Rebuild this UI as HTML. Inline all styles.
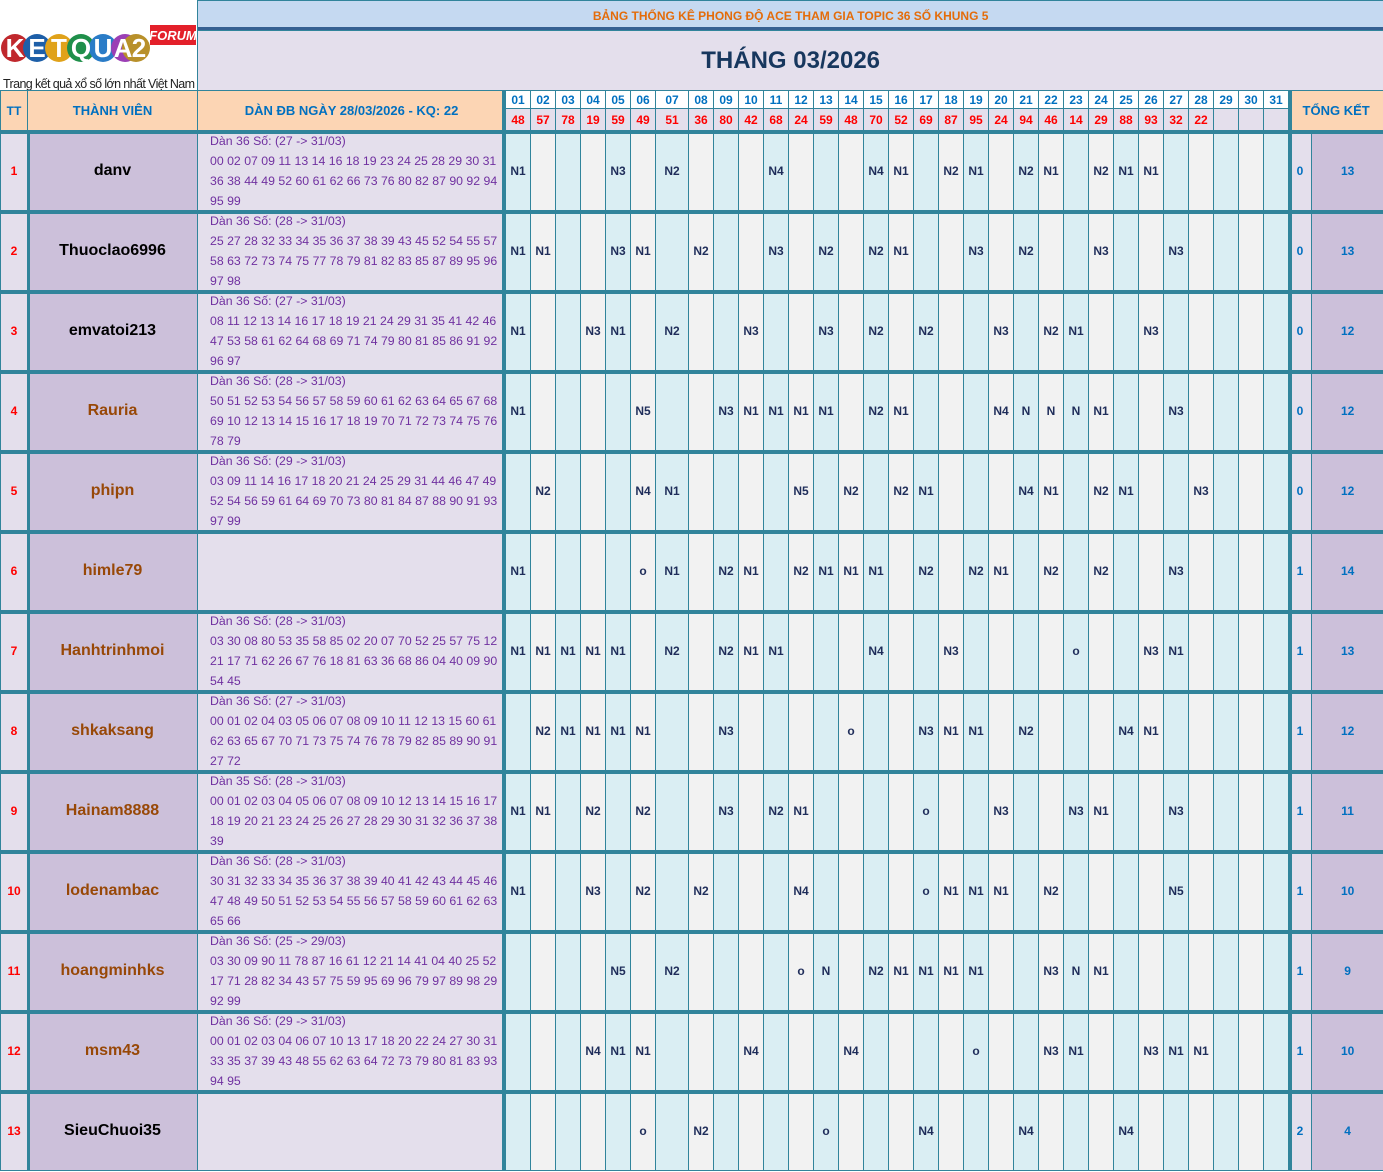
<!DOCTYPE html>
<html><head><meta charset="utf-8">
<style>
*{margin:0;padding:0;box-sizing:border-box}
body{width:1383px;height:1172px;background:#fff;font-family:"Liberation Sans",sans-serif;overflow:hidden}
table{border-collapse:collapse;table-layout:fixed;width:1383px}
td{border:1px solid #31849b;text-align:center;vertical-align:middle;overflow:hidden;white-space:nowrap;padding:0}
.logo{background:#fff;border:none;position:relative}
.ban{background:#c5d9f1;color:#e46c0a;font-size:12px;font-weight:bold;box-shadow:inset 0 -3px 0 #366092}
.title{background:#e4dfec;color:#17375e;font-size:24px;font-weight:bold}
.hp{background:#fcd5b4;color:#0070c0;font-size:13px;font-weight:bold}
.dn{background:#fff;color:#0070c0;font-size:12px;font-weight:bold}
.dv{background:#e4dfec;color:#ff0000;font-size:12px;font-weight:bold}
tr.d td{font-size:12px;font-weight:bold;color:#1f2d5a;box-shadow:inset 0 3px 0 #31849b}
tr.d td:nth-child(2n+4){background:#daeef3}
tr.d td:nth-child(2n+5){background:#f2f2f2}
tr.d td.tt{background:#e4dfec;color:#ff0000;font-size:12px}
tr.d td.nm{background:#ccc0da;color:#984807;font-size:16px;box-shadow:inset 0 3px 0 #31849b,inset 2px 0 0 #31849b}
tr.d td.nm.k{color:#000}
tr.d td.dan{background:#e4dfec;color:#7030a0;font-weight:normal;text-align:left;padding:0 0 0 12px;white-space:normal;font-size:12.3px;vertical-align:top;box-shadow:inset 0 3px 0 #31849b,inset -3px 0 0 #31849b}
.dan div{height:76px;line-height:20px;overflow:visible}
tr.d td.t1{background:#e4dfec;color:#0070c0;box-shadow:inset 0 3px 0 #31849b,inset 3px 0 0 #31849b}
tr.d td.t2{background:#ccc0da;color:#0070c0}
tr.d{height:80px}
.thk{box-shadow:inset -3px 0 0 #31849b}
</style></head><body>
<table>
<colgroup>
<col style="width:27px"><col style="width:170px"><col style="width:308px">
<col style="width:25px"><col style="width:25px"><col style="width:25px"><col style="width:25px"><col style="width:25px"><col style="width:25px"><col style="width:33px">
<col style="width:25px"><col style="width:25px"><col style="width:25px"><col style="width:25px"><col style="width:25px"><col style="width:25px"><col style="width:25px"><col style="width:25px">
<col style="width:25px"><col style="width:25px"><col style="width:25px"><col style="width:25px"><col style="width:25px"><col style="width:25px"><col style="width:25px"><col style="width:25px">
<col style="width:25px"><col style="width:25px"><col style="width:25px"><col style="width:25px"><col style="width:25px"><col style="width:25px"><col style="width:25px"><col style="width:25px">
<col style="width:23px"><col style="width:72px">
</colgroup>
<tr style="height:30px">
<td class="logo" colspan="2" rowspan="2">
<svg width="197" height="90" viewBox="0 0 197 90" style="position:absolute;left:0;top:0">
<circle cx="14" cy="47" r="14" fill="#c0282d"/><circle cx="36" cy="47" r="14" fill="#1d5fa8"/><circle cx="58" cy="47" r="14" fill="#e0a21a"/><circle cx="80" cy="47" r="14" fill="#1f8f4a"/><circle cx="102" cy="47" r="14" fill="#2a7cc7"/><circle cx="124" cy="47" r="14" fill="#9b3fb5"/><circle cx="135" cy="47" r="14" fill="#b8902a"/>
<text x="14" y="56" font-family="Liberation Sans" font-weight="bold" font-size="26" fill="#fff" text-anchor="middle">K</text>
<text x="36" y="56" font-family="Liberation Sans" font-weight="bold" font-size="26" fill="#fff" text-anchor="middle">E</text>
<text x="58" y="56" font-family="Liberation Sans" font-weight="bold" font-size="26" fill="#fff" text-anchor="middle">T</text>
<text x="80" y="56" font-family="Liberation Sans" font-weight="bold" font-size="26" fill="#fff" text-anchor="middle">Q</text>
<text x="102" y="56" font-family="Liberation Sans" font-weight="bold" font-size="26" fill="#fff" text-anchor="middle">U</text>
<text x="122" y="56" font-family="Liberation Sans" font-weight="bold" font-size="26" fill="#fff" text-anchor="middle">A</text>
<text x="138" y="56" font-family="Liberation Sans" font-weight="bold" font-size="26" fill="#fff" text-anchor="middle">2</text>
<rect x="149" y="24" width="46" height="20" fill="#e3202a"/>
<text x="172" y="39" font-family="Liberation Sans" font-style="italic" font-weight="bold" font-size="13" fill="#fff" text-anchor="middle">FORUM</text>
<text x="2" y="87" font-family="Liberation Sans" font-size="12.5" fill="#222" textLength="192">Trang kết quả xổ số lớn nhất Việt Nam</text>
</svg></td>
<td class="ban" colspan="34">BẢNG THỐNG KÊ PHONG ĐỘ ACE THAM GIA TOPIC 36 SỐ KHUNG 5</td>
</tr>
<tr style="height:60px"><td class="title" colspan="34">THÁNG 03/2026</td></tr>
<tr style="height:18px">
<td class="hp" rowspan="2" style="font-size:12px">TT</td><td class="hp" rowspan="2">THÀNH VIÊN</td><td class="hp thk" rowspan="2">DÀN ĐB NGÀY 28/03/2026 - KQ: 22</td>
<td class="dn">01</td><td class="dn">02</td><td class="dn">03</td><td class="dn">04</td><td class="dn">05</td><td class="dn">06</td><td class="dn">07</td><td class="dn">08</td><td class="dn">09</td><td class="dn">10</td><td class="dn">11</td><td class="dn">12</td><td class="dn">13</td><td class="dn">14</td><td class="dn">15</td><td class="dn">16</td><td class="dn">17</td><td class="dn">18</td><td class="dn">19</td><td class="dn">20</td><td class="dn">21</td><td class="dn">22</td><td class="dn">23</td><td class="dn">24</td><td class="dn">25</td><td class="dn">26</td><td class="dn">27</td><td class="dn">28</td><td class="dn">29</td><td class="dn">30</td><td class="dn">31</td>
<td class="hp" colspan="2" rowspan="2" style="box-shadow:inset 3px 0 0 #31849b">TỔNG KẾT</td>
</tr>
<tr style="height:22px">
<td class="dv">48</td><td class="dv">57</td><td class="dv">78</td><td class="dv">19</td><td class="dv">59</td><td class="dv">49</td><td class="dv">51</td><td class="dv">36</td><td class="dv">80</td><td class="dv">42</td><td class="dv">68</td><td class="dv">24</td><td class="dv">59</td><td class="dv">48</td><td class="dv">70</td><td class="dv">52</td><td class="dv">69</td><td class="dv">87</td><td class="dv">95</td><td class="dv">24</td><td class="dv">94</td><td class="dv">46</td><td class="dv">14</td><td class="dv">29</td><td class="dv">88</td><td class="dv">93</td><td class="dv">32</td><td class="dv">22</td><td class="dv"></td><td class="dv"></td><td class="dv"></td>
</tr>

<tr class="d"><td class="tt">1</td><td class="nm k">danv</td><td class="dan"><div>Dàn 36 Số: (27 -&gt; 31/03)<br>00 02 07 09 11 13 14 16 18 19 23 24 25 28 29 30 31 36 38 44 49 52 60 61 62 66 73 76 80 82 87 90 92 94 95 99</div></td>
<td>N1</td><td></td><td></td><td></td><td>N3</td><td></td><td>N2</td><td></td><td></td><td></td><td>N4</td><td></td><td></td><td></td><td>N4</td><td>N1</td><td></td><td>N2</td><td>N1</td><td></td><td>N2</td><td>N1</td><td></td><td>N2</td><td>N1</td><td>N1</td><td></td><td></td><td></td><td></td><td></td>
<td class="t1">0</td><td class="t2">13</td></tr>

<tr class="d"><td class="tt">2</td><td class="nm k">Thuoclao6996</td><td class="dan"><div>Dàn 36 Số: (28 -&gt; 31/03)<br>25 27 28 32 33 34 35 36 37 38 39 43 45 52 54 55 57 58 63 72 73 74 75 77 78 79 81 82 83 85 87 89 95 96 97 98</div></td>
<td>N1</td><td>N1</td><td></td><td></td><td>N3</td><td>N1</td><td></td><td>N2</td><td></td><td></td><td>N3</td><td></td><td>N2</td><td></td><td>N2</td><td>N1</td><td></td><td></td><td>N3</td><td></td><td>N2</td><td></td><td></td><td>N3</td><td></td><td></td><td>N3</td><td></td><td></td><td></td><td></td>
<td class="t1">0</td><td class="t2">13</td></tr>

<tr class="d"><td class="tt">3</td><td class="nm k">emvatoi213</td><td class="dan"><div>Dàn 36 Số: (27 -&gt; 31/03)<br>08 11 12 13 14 16 17 18 19 21 24 29 31 35 41 42 46 47 53 58 61 62 64 68 69 71 74 79 80 81 85 86 91 92 96 97</div></td>
<td>N1</td><td></td><td></td><td>N3</td><td>N1</td><td></td><td>N2</td><td></td><td></td><td>N3</td><td></td><td></td><td>N3</td><td></td><td>N2</td><td></td><td>N2</td><td></td><td></td><td>N3</td><td></td><td>N2</td><td>N1</td><td></td><td></td><td>N3</td><td></td><td></td><td></td><td></td><td></td>
<td class="t1">0</td><td class="t2">12</td></tr>

<tr class="d"><td class="tt">4</td><td class="nm">Rauria</td><td class="dan"><div>Dàn 36 Số: (28 -&gt; 31/03)<br>50 51 52 53 54 56 57 58 59 60 61 62 63 64 65 67 68 69 10 12 13 14 15 16 17 18 19 70 71 72 73 74 75 76 78 79</div></td>
<td>N1</td><td></td><td></td><td></td><td></td><td>N5</td><td></td><td></td><td>N3</td><td>N1</td><td>N1</td><td>N1</td><td>N1</td><td></td><td>N2</td><td>N1</td><td></td><td></td><td></td><td>N4</td><td>N</td><td>N</td><td>N</td><td>N1</td><td></td><td></td><td>N3</td><td></td><td></td><td></td><td></td>
<td class="t1">0</td><td class="t2">12</td></tr>

<tr class="d"><td class="tt">5</td><td class="nm">phipn</td><td class="dan"><div>Dàn 36 Số: (29 -&gt; 31/03)<br>03 09 11 14 16 17 18 20 21 24 25 29 31 44 46 47 49 52 54 56 59 61 64 69 70 73 80 81 84 87 88 90 91 93 97 99</div></td>
<td></td><td>N2</td><td></td><td></td><td></td><td>N4</td><td>N1</td><td></td><td></td><td></td><td></td><td>N5</td><td></td><td>N2</td><td></td><td>N2</td><td>N1</td><td></td><td></td><td></td><td>N4</td><td>N1</td><td></td><td>N2</td><td>N1</td><td></td><td></td><td>N3</td><td></td><td></td><td></td>
<td class="t1">0</td><td class="t2">12</td></tr>

<tr class="d"><td class="tt">6</td><td class="nm">himle79</td><td class="dan"><div></div></td>
<td>N1</td><td></td><td></td><td></td><td></td><td>o</td><td>N1</td><td></td><td>N2</td><td>N1</td><td></td><td>N2</td><td>N1</td><td>N1</td><td>N1</td><td></td><td>N2</td><td></td><td>N2</td><td>N1</td><td></td><td>N2</td><td></td><td>N2</td><td></td><td></td><td>N3</td><td></td><td></td><td></td><td></td>
<td class="t1">1</td><td class="t2">14</td></tr>

<tr class="d"><td class="tt">7</td><td class="nm">Hanhtrinhmoi</td><td class="dan"><div>Dàn 36 Số: (28 -&gt; 31/03)<br>03 30 08 80 53 35 58 85 02 20 07 70 52 25 57 75 12 21 17 71 62 26 67 76 18 81 63 36 68 86 04 40 09 90 54 45</div></td>
<td>N1</td><td>N1</td><td>N1</td><td>N1</td><td>N1</td><td></td><td>N2</td><td></td><td>N2</td><td>N1</td><td>N1</td><td></td><td></td><td></td><td>N4</td><td></td><td></td><td>N3</td><td></td><td></td><td></td><td></td><td>o</td><td></td><td></td><td>N3</td><td>N1</td><td></td><td></td><td></td><td></td>
<td class="t1">1</td><td class="t2">13</td></tr>

<tr class="d"><td class="tt">8</td><td class="nm">shkaksang</td><td class="dan"><div>Dàn 36 Số: (27 -&gt; 31/03)<br>00 01 02 04 03 05 06 07 08 09 10 11 12 13 15 60 61 62 63 65 67 70 71 73 75 74 76 78 79 82 85 89 90 91 27 72</div></td>
<td></td><td>N2</td><td>N1</td><td>N1</td><td>N1</td><td>N1</td><td></td><td></td><td>N3</td><td></td><td></td><td></td><td></td><td>o</td><td></td><td></td><td>N3</td><td>N1</td><td>N1</td><td></td><td>N2</td><td></td><td></td><td></td><td>N4</td><td>N1</td><td></td><td></td><td></td><td></td><td></td>
<td class="t1">1</td><td class="t2">12</td></tr>

<tr class="d"><td class="tt">9</td><td class="nm">Hainam8888</td><td class="dan"><div>Dàn 35 Số: (28 -&gt; 31/03)<br>00 01 02 03 04 05 06 07 08 09 10 12 13 14 15 16 17 18 19 20 21 23 24 25 26 27 28 29 30 31 32 36 37 38 39</div></td>
<td>N1</td><td>N1</td><td></td><td>N2</td><td></td><td>N2</td><td></td><td></td><td>N3</td><td></td><td>N2</td><td>N1</td><td></td><td></td><td></td><td></td><td>o</td><td></td><td></td><td>N3</td><td></td><td></td><td>N3</td><td>N1</td><td></td><td></td><td>N3</td><td></td><td></td><td></td><td></td>
<td class="t1">1</td><td class="t2">11</td></tr>

<tr class="d"><td class="tt">10</td><td class="nm">lodenambac</td><td class="dan"><div>Dàn 36 Số: (28 -&gt; 31/03)<br>30 31 32 33 34 35 36 37 38 39 40 41 42 43 44 45 46 47 48 49 50 51 52 53 54 55 56 57 58 59 60 61 62 63 65 66</div></td>
<td>N1</td><td></td><td></td><td>N3</td><td></td><td>N2</td><td></td><td>N2</td><td></td><td></td><td></td><td>N4</td><td></td><td></td><td></td><td></td><td>o</td><td>N1</td><td>N1</td><td>N1</td><td></td><td>N2</td><td></td><td></td><td></td><td></td><td>N5</td><td></td><td></td><td></td><td></td>
<td class="t1">1</td><td class="t2">10</td></tr>

<tr class="d"><td class="tt">11</td><td class="nm">hoangminhks</td><td class="dan"><div>Dàn 36 Số: (25 -&gt; 29/03)<br>03 30 09 90 11 78 87 16 61 12 21 14 41 04 40 25 52 17 71 28 82 34 43 57 75 59 95 69 96 79 97 89 98 29 92 99</div></td>
<td></td><td></td><td></td><td></td><td>N5</td><td></td><td>N2</td><td></td><td></td><td></td><td></td><td>o</td><td>N</td><td></td><td>N2</td><td>N1</td><td>N1</td><td>N1</td><td>N1</td><td></td><td></td><td>N3</td><td>N</td><td>N1</td><td></td><td></td><td></td><td></td><td></td><td></td><td></td>
<td class="t1">1</td><td class="t2">9</td></tr>

<tr class="d"><td class="tt">12</td><td class="nm">msm43</td><td class="dan"><div>Dàn 36 Số: (29 -&gt; 31/03)<br>00 01 02 03 04 06 07 10 13 17 18 20 22 24 27 30 31 33 35 37 39 43 48 55 62 63 64 72 73 79 80 81 83 93 94 95</div></td>
<td></td><td></td><td></td><td>N4</td><td>N1</td><td>N1</td><td></td><td></td><td></td><td>N4</td><td></td><td></td><td></td><td>N4</td><td></td><td></td><td></td><td></td><td>o</td><td></td><td></td><td>N3</td><td>N1</td><td></td><td></td><td>N3</td><td>N1</td><td>N1</td><td></td><td></td><td></td>
<td class="t1">1</td><td class="t2">10</td></tr>

<tr class="d"><td class="tt">13</td><td class="nm k">SieuChuoi35</td><td class="dan"><div></div></td>
<td></td><td></td><td></td><td></td><td></td><td>o</td><td></td><td>N2</td><td></td><td></td><td></td><td></td><td>o</td><td></td><td></td><td></td><td>N4</td><td></td><td></td><td></td><td>N4</td><td></td><td></td><td></td><td>N4</td><td></td><td></td><td></td><td></td><td></td><td></td>
<td class="t1">2</td><td class="t2">4</td></tr>
</table>
</body></html>
